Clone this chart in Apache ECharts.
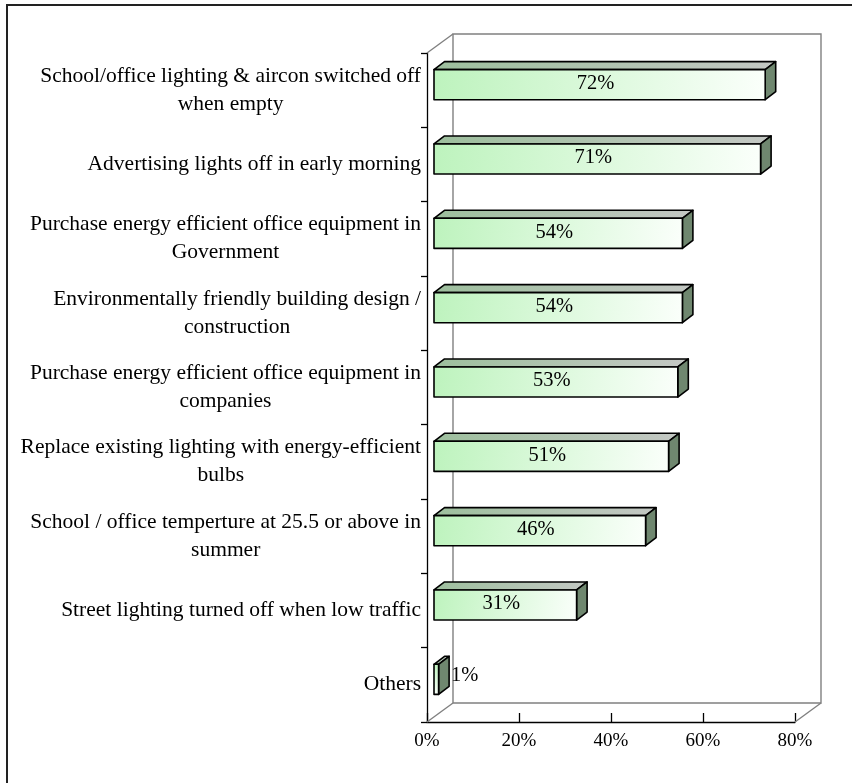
<!DOCTYPE html>
<html><head><meta charset="utf-8">
<script src="https://cdn.jsdelivr.net/npm/echarts@6/dist/echarts.min.js"></script>
<style>html,body{margin:0;padding:0;background:#fff}#c{width:852px;height:783px}</style>
</head><body><div id="c"></div>
<script>
const categories = [
  "School/office lighting & aircon switched off\nwhen empty",
  "Advertising lights off in early morning",
  "Purchase energy efficient office equipment in\nGovernment",
  "Environmentally friendly building design /\nconstruction",
  "Purchase energy efficient office equipment in\ncompanies",
  "Replace existing lighting with energy-efficient\nbulbs",
  "School / office temperture at 25.5 or above in\nsummer",
  "Street lighting turned off when low traffic",
  "Others"
];
const values = [72, 71, 54, 54, 53, 51, 46, 31, 1];
const xTicks = [0, 20, 40, 60, 80];

const FONT = '"Liberation Serif","Times New Roman",serif';
const WALL = [26, -19];     // depth of the 3D box
const FO = [7, -5.5];       // front face offset of bars
const BD = [10.5, -8];      // bar depth

const chart = echarts.init(document.getElementById('c'), null, {renderer: 'canvas'});

function renderWall(params, api) {
  const cs = params.coordSys;
  const x0 = cs.x, y0 = cs.y, x1 = cs.x + cs.width, y1 = cs.y + cs.height;
  const bx0 = x0 + WALL[0], by0 = y0 + WALL[1], bx1 = x1 + WALL[0], by1 = y1 + WALL[1];
  const st = {stroke: '#808080', lineWidth: 1.4, fill: 'none'};
  return {
    type: 'group',
    children: [
      {type: 'rect', shape: {x: bx0, y: by0, width: bx1 - bx0, height: by1 - by0}, style: {stroke: '#808080', lineWidth: 1.4, fill: '#fff'}},
      {type: 'line', shape: {x1: x0, y1: y0, x2: bx0, y2: by0}, style: st},
      {type: 'line', shape: {x1: x0, y1: y1, x2: bx0, y2: by1}, style: st},
      {type: 'line', shape: {x1: x1, y1: y1, x2: bx1, y2: by1}, style: st}
    ]
  };
}

function renderBar(params, api) {
  const v = api.value(0), i = api.value(1);
  const p0 = api.coord([0, i]), p1 = api.coord([v, i]);
  const band = api.size([0, 1])[1];
  const h = band * 0.405;
  const xL = p0[0] + FO[0], xR = p1[0] + FO[0];
  const yT = p0[1] + FO[1] - h / 2, yB = yT + h;
  const line = {stroke: '#000', lineWidth: 1.6, lineJoin: 'round'};
  const front = new echarts.graphic.LinearGradient(0, 0, 1, 1, [
    {offset: 0, color: '#bdf3bd'}, {offset: 1, color: '#fbfffb'}
  ]);
  const top = new echarts.graphic.LinearGradient(0, 0, 1, 0, [
    {offset: 0, color: '#9dbf9d'}, {offset: 1, color: '#c4c8c4'}
  ]);
  const inside = (xR - xL) > 45;
  return {
    type: 'group',
    children: [
      {type: 'polygon', shape: {points: [[xL, yT], [xR, yT], [xR + BD[0], yT + BD[1]], [xL + BD[0], yT + BD[1]]]},
        style: Object.assign({fill: top}, line)},
      {type: 'polygon', shape: {points: [[xR, yT], [xR + BD[0], yT + BD[1]], [xR + BD[0], yB + BD[1]], [xR, yB]]},
        style: Object.assign({fill: '#6f876f'}, line)},
      {type: 'rect', shape: {x: xL, y: yT, width: xR - xL, height: h},
        style: Object.assign({fill: front}, line)},
      {type: 'text', style: {
        text: v + '%',
        x: inside ? (xL + xR) / 2 - 4 : xR + BD[0] + 2,
        y: inside ? (yT + yB) / 2 - 1 : (yT + yB) / 2 - 4,
        align: inside ? 'center' : 'left', verticalAlign: 'middle',
        fontSize: 20.5, fontFamily: FONT, fill: '#000'
      }}
    ]
  };
}

const option = {
  animation: false,
  backgroundColor: '#fff',
  graphic: [
    {type: 'rect', shape: {x: 7, y: 5, width: 900, height: 900},
      style: {fill: 'none', stroke: '#222', lineWidth: 2}, z: 100}
  ],
  grid: {left: 427, right: 57, top: 53, bottom: 61, containLabel: false},
  xAxis: {
    type: 'value',
    min: xTicks[0], max: xTicks[xTicks.length - 1], interval: xTicks[1] - xTicks[0],
    axisLine: {show: true, lineStyle: {color: '#000', width: 1.3}},
    axisTick: {show: true, inside: true, length: 9, lineStyle: {color: '#000', width: 1.3}},
    splitLine: {show: false},
    axisLabel: {formatter: '{value}%', fontFamily: FONT, fontSize: 19, color: '#000', margin: 10}
  },
  yAxis: {
    type: 'category',
    data: categories,
    inverse: true,
    axisLine: {show: true, lineStyle: {color: '#000', width: 1.3}},
    axisTick: {show: true, length: 6, lineStyle: {color: '#000', width: 1.3}},
    axisLabel: {
      margin: 6, align: 'right',
      formatter: function (v) { return v.split('\n').map(s => '{c|' + s + '}').join('\n'); },
      rich: {c: {align: 'center', fontFamily: FONT, fontSize: 21.5, lineHeight: 28, color: '#000'}}
    }
  },
  series: [
    {type: 'custom', z: 1, renderItem: renderWall, data: [[0, 0]], encode: {x: 0, y: 1}, silent: true, clip: false},
    {type: 'custom', z: 3, renderItem: renderBar, clip: false,
      data: values.map((v, i) => [v, i]), encode: {x: 0, y: 1}}
  ]
};
chart.setOption(option);
</script></body></html>
